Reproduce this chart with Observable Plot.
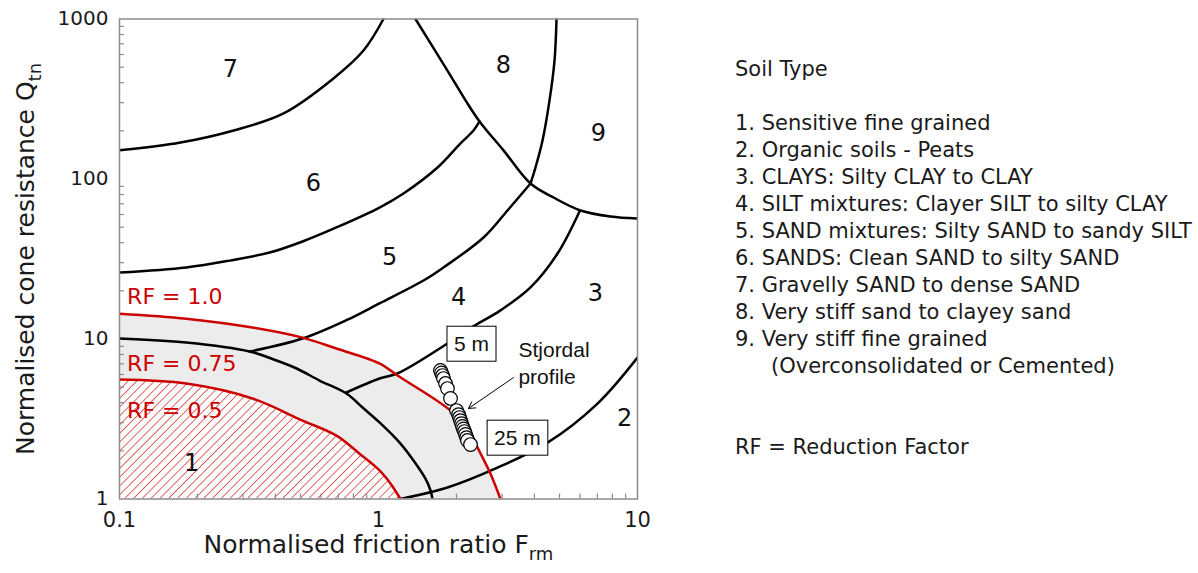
<!DOCTYPE html>
<html>
<head>
<meta charset="utf-8">
<script src="https://cdn.jsdelivr.net/npm/d3@7"></script>
<script src="https://cdn.jsdelivr.net/npm/@observablehq/plot@0.6"></script>
<style>
  html, body { margin: 0; padding: 0; background: #fff; }
  #wrap { position: relative; width: 1198px; height: 573px; font-family: "DejaVu Sans", sans-serif; color: #1a1a1a; }
  #chart { position: absolute; left: 0; top: 0; }
  #legend { position: absolute; left: 735px; top: 55.5px; font-size: 21px; line-height: 27px; white-space: pre; }
  #legend .cont { padding-left: 36px; }
</style>
</head>
<body>
<div id="wrap">
  <div id="chart"></div>
  <div id="legend"></div>
</div>
<script>
// Zone boundaries of the normalised soil behaviour type chart (Fr in %, Qtn)
const fr76 = [0.1, 0.172, 0.276, 0.43, 0.67, 0.875, 1.045];
const qt76 = [151, 169, 201, 257, 425, 635, 1000];

const fr65 = [0.1, 0.181, 0.266, 0.38, 0.509, 0.688, 1.009, 1.249, 1.69, 2.073, 2.327, 2.455];
const qt65 = [26.0, 28.0, 30.9, 34.7, 40.7, 49.8, 66.3, 81.2, 118, 167, 201, 229];

const fr78 = [1.389, 1.846, 2.168, 2.455, 3.038, 3.863, 4.74, 6.025, 7.867, 10];
const qt78 = [1000, 476, 310, 229, 151, 93.7, 76.6, 63.6, 58.3, 56.6];

const fr89 = [4.868, 4.782, 4.574, 4.298, 4.038, 3.863];
const qt89 = [1000, 550, 310, 174, 118, 93.7];

const fr54 = [3.863, 3.148, 2.544, 1.782, 1.492, 1.009, 0.752, 0.509, 0.318];
const qt54 = [93.7, 63.6, 43.1, 28.0, 23.2, 16.7, 13.1, 10.07, 8.35];

const fr43 = [5.972, 4.911, 3.863, 2.958, 2.327, 1.846, 1.184, 1.009, 0.752];
const qt43 = [62.7, 34.2, 21.0, 15.1, 12.0, 9.37, 6.09, 5.66, 4.63];

const fr32 = [10, 7.008, 4.494, 2.88, 1.846, 1.216];
const qt32 = [7.66, 3.95, 2.25, 1.57, 1.18, 1.0];

const fr1 = [0.1, 0.181, 0.318, 0.404, 0.483, 0.592, 0.752, 0.868, 1.009, 1.216, 1.365, 1.518, 1.588, 1.616];
const qt1 = [10.07, 9.51, 8.35, 7.34, 6.54, 5.50, 4.56, 3.73, 3.01, 2.22, 1.74, 1.34, 1.13, 1.0];

// Reduction factor contours
const frRf100 = [0.1, 0.181, 0.326, 0.509, 0.688, 1.009, 1.184, 1.897, 2.266, 2.412, 2.706, 2.958];
const qtRf100 = [14.4, 13.4, 11.8, 10.2, 8.72, 7.03, 5.91, 3.57, 2.60, 2.10, 1.44, 1.0];
const frRf050 = [0.1, 0.181, 0.326, 0.509, 0.688, 0.845, 1.009, 1.112, 1.216];
const qtRf050 = [5.58, 5.27, 4.25, 3.09, 2.49, 1.92, 1.51, 1.25, 1.0];

// CPT profile, Stjordal (5 m to 25 m depth)
const profFr = [1.735, 1.751, 1.767, 1.782, 1.814, 1.846, 1.897, 2.001, 2.037, 2.055, 2.073, 2.092, 2.110, 2.129, 2.148, 2.168, 2.187, 2.206, 2.266];
const profQt = [6.36, 6.13, 5.91, 5.66, 5.27, 4.90, 4.25, 3.57, 3.37, 3.23, 3.09, 2.96, 2.84, 2.74, 2.64, 2.53, 2.42, 2.32, 2.19];

// Zone numbers
const zoneIds = ["1", "2", "3", "4", "5", "6", "7", "8", "9"];
const zoneFr = [0.190, 8.91, 6.88, 2.037, 1.103, 0.561, 0.268, 3.038, 7.07];
const zoneQt = [1.67, 3.18, 19.2, 18.2, 32.3, 93.7, 483, 512, 192];

// Reduction factor labels
const rfText = ["RF = 1.0", "RF = 0.75", "RF = 0.5"];
const rfFr = [0.107, 0.107, 0.107];
const rfQt = [18.2, 7.03, 3.57];

// Depth tags and callout
const depthText = ["5 m", "25 m"];
const depthFr = [2.286, 3.44];
const depthQt = [9.24, 2.39];
const calloutText = ["Stjordal", "profile"];
const calloutFr = [3.47, 3.47];
const calloutQt = [8.47, 5.74];
const arrowFrom = [3.32, 5.74];
const arrowTo = [2.226, 3.68];

// Axes
const xTicks = [0.1, 1, 10];
const yTicks = [1, 10, 100, 1000];
const xMinor = [0.2, 0.3, 0.4, 0.5, 0.6, 0.7, 0.8, 0.9, 2, 3, 4, 5, 6, 7, 8, 9];
const yMinor = [2, 3, 4, 5, 6, 7, 8, 9, 20, 30, 40, 50, 60, 70, 80, 90, 200, 300, 400, 500, 600, 700, 800, 900];
const xTitle = "Normalised friction ratio F";
const xTitleSub = "rm";
const yTitle = "Normalised cone resistance Q";
const yTitleSub = "tn";

const legendLines = [
  "Soil Type",
  "",
  "1. Sensitive fine grained",
  "2. Organic soils - Peats",
  "3. CLAYS: Silty CLAY to CLAY",
  "4. SILT mixtures: Clayer SILT to silty CLAY",
  "5. SAND mixtures: Silty SAND to sandy SILT",
  "6. SANDS: Clean SAND to silty SAND",
  "7. Gravelly SAND to dense SAND",
  "8. Very stiff sand to clayey sand",
  "9. Very stiff fine grained",
  "(Overconsolidated or Cemented)",
  "",
  "",
  "RF = Reduction Factor"
];

// ---- tables built from the arrays ----
const zip = (id, xs, ys) => xs.map((x, i) => ({id, fr: x, qt: ys[i]}));
const boundaries = [
  ...zip("7-6", fr76, qt76),
  ...zip("6-5", fr65, qt65),
  ...zip("7-8", fr78, qt78),
  ...zip("8-9", fr89, qt89),
  ...zip("5-4", fr54, qt54),
  ...zip("4-3", fr43, qt43),
  ...zip("3-2", fr32, qt32),
  ...zip("1", fr1, qt1)
];
const rf100 = zip("rf100", frRf100, qtRf100);
const rf050 = zip("rf050", frRf050, qtRf050);
const reduction = [...rf100, ...rf050];
const profile = profFr.map((x, i) => ({fr: x, qt: profQt[i]}));
const zones = zoneIds.map((t, i) => ({t, fr: zoneFr[i], qt: zoneQt[i]}));
const rfLabels = rfText.map((t, i) => ({t, fr: rfFr[i], qt: rfQt[i]}));
const depthTags = depthText.map((t, i) => ({t, fr: depthFr[i], qt: depthQt[i]}));
const callout = calloutText.map((t, i) => ({t, fr: calloutFr[i], qt: calloutQt[i]}));

const W = 700, H = 573;
const mL = 119, mR = 63, mT = 18.5, mB = 74.5;
const plotW = W - mL - mR, plotH = H - mT - mB;
const RED = "#cc0000";
const FRAME = "#8c8c8c";
const FONT = '"DejaVu Sans", sans-serif';
const LABEL_FONT = '"Liberation Sans", Arial, sans-serif';

const chart = Plot.plot({
  width: W,
  height: H,
  marginLeft: mL,
  marginRight: mR,
  marginTop: mT,
  marginBottom: mB,
  style: {fontFamily: FONT, fontSize: "20px", color: "#1a1a1a", background: "white", overflow: "visible"},
  x: {type: "log", domain: [0.1, 10]},
  y: {type: "log", domain: [1, 1000]},
  marks: [
    // reduced-strength band and the hatched sensitive zone
    Plot.areaY(rf100, {x: "fr", y1: () => 1, y2: "qt", fill: "#ececec", curve: "catmull-rom", clip: true}),
    Plot.areaY(rf050, {x: "fr", y1: () => 1, y2: "qt", fill: "white", curve: "catmull-rom", clip: true}),
    Plot.areaY(rf050, {x: "fr", y1: () => 1, y2: "qt", fill: "url(#rfhatch)", curve: "catmull-rom", clip: true}),
    // soil behaviour type boundaries
    Plot.line(boundaries, {x: "fr", y: "qt", z: "id", stroke: "black", strokeWidth: 2.5, curve: "catmull-rom", clip: true}),
    Plot.line(reduction, {x: "fr", y: "qt", z: "id", stroke: RED, strokeWidth: 2.5, curve: "catmull-rom", clip: true}),
    // frame, inward minor ticks, tick labels
    Plot.frame({stroke: FRAME, strokeWidth: 1.5}),
    Plot.tickX(xMinor, {x: d => d, stroke: FRAME, strokeWidth: 1.2, insetTop: plotH - 5}),
    Plot.tickY(yMinor, {y: d => d, stroke: FRAME, strokeWidth: 1.2, insetRight: plotW - 5}),
    Plot.axisX({ticks: xTicks, tickSize: 0, tickPadding: 13, tickFormat: d => String(d), label: null, fontSize: 21}),
    Plot.axisY({ticks: yTicks, tickSize: 0, tickPadding: 11, tickFormat: d => String(d), label: null, fontSize: 20}),
    // axis titles
    Plot.text([xTitle], {text: d => d, frameAnchor: "bottom", dy: 54, fontSize: 25, textAnchor: "middle"}),
    Plot.text([yTitle], {text: d => d, frameAnchor: "left", dx: -94, rotate: -90, fontSize: 25, textAnchor: "middle"}),
    // zone numbers and RF labels
    Plot.text(zones, {x: "fr", y: "qt", text: "t", fontSize: 24, fill: "#111"}),
    Plot.text(rfLabels, {x: "fr", y: "qt", text: "t", fontSize: 22, fill: RED, textAnchor: "start"}),
    // profile
    Plot.dot(profile, {x: "fr", y: "qt", r: 6.8, fill: "white", stroke: "black", strokeWidth: 1.2}),
    Plot.arrow([0], {x1: () => arrowFrom[0], y1: () => arrowFrom[1], x2: () => arrowTo[0], y2: () => arrowTo[1], stroke: "black", strokeWidth: 1, headLength: 11, bend: 0}),
    Plot.text(callout, {x: "fr", y: "qt", text: "t", fontSize: 21, fontFamily: LABEL_FONT, textAnchor: "start", fill: "#111"}),
    Plot.text(depthTags, {x: "fr", y: "qt", text: "t", fontSize: 21, fontFamily: LABEL_FONT, fill: "#111"})
  ]
});

document.getElementById("chart").appendChild(chart);

const svg = d3.select(chart);

// diagonal red hatching used by the sensitive zone
const defs = svg.insert("defs", ":first-child");
const pat = defs.append("pattern")
  .attr("id", "rfhatch")
  .attr("patternUnits", "userSpaceOnUse")
  .attr("width", 6.2)
  .attr("height", 6.2)
  .attr("patternTransform", "rotate(45)");
pat.append("line")
  .attr("x1", 0).attr("y1", 0).attr("x2", 0).attr("y2", 6.2)
  .attr("stroke", RED).attr("stroke-width", 1.2);

// subscripts on the axis titles, boxes around the depth tags
svg.selectAll("text").each(function () {
  const t = d3.select(this);
  const s = this.textContent;
  if (s === xTitle || s === yTitle) {
    t.text(null);
    t.append("tspan").text(s);
    t.append("tspan").attr("dy", 7).attr("font-size", 18).text(s === xTitle ? xTitleSub : yTitleSub);
  } else if (depthText.includes(s)) {
    const b = this.getBBox();
    const padX = 7, padY = 6;
    d3.select(this.parentNode).insert("rect", () => this)
      .attr("x", b.x - padX).attr("y", b.y - padY)
      .attr("width", b.width + 2 * padX).attr("height", b.height + 2 * padY)
      .attr("transform", t.attr("transform"))
      .attr("fill", "white").attr("stroke", "black").attr("stroke-width", 1);
  }
});

// soil type key
const legend = d3.select("#legend");
legendLines.forEach((line, i) => {
  legend.append("div")
    .attr("class", line.startsWith("(") ? "cont" : null)
    .text(line === "" ? "\u00a0" : line);
});
</script>
</body>
</html>
